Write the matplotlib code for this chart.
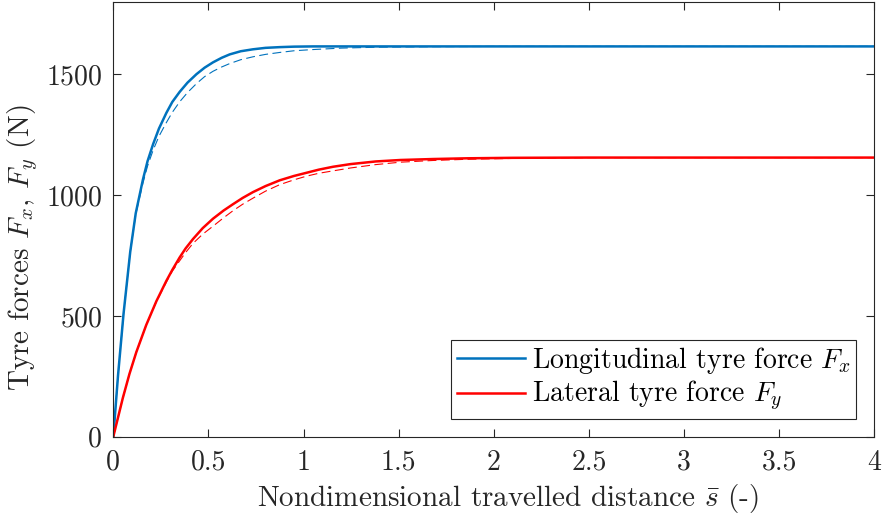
import matplotlib
matplotlib.use("Agg")
import matplotlib.pyplot as plt

plt.rcParams['font.family'] = ['cmr10']
plt.rcParams['mathtext.fontset'] = 'cm'
plt.rcParams['axes.formatter.use_mathtext'] = True

# Longitudinal force, solid (model) and dashed (reference)
s_fx = [0, 0.025, 0.054, 0.089, 0.118, 0.156, 0.18, 0.209, 0.24, 0.279, 0.31, 0.349, 0.39, 0.437, 0.48, 0.524, 0.57, 0.612, 0.67, 0.734, 0.8, 0.875, 0.95, 1.05, 1.5, 2.0, 3.0, 4.0]
fx_solid = [0, 255, 510, 765, 925, 1065, 1140, 1210, 1275, 1340, 1385, 1427, 1465, 1500, 1527, 1549, 1568, 1582, 1595, 1603, 1609, 1612, 1614, 1615, 1615, 1615, 1615, 1615]
s_fx_d = [0, 0.025, 0.054, 0.089, 0.118, 0.156, 0.18, 0.209, 0.24, 0.279, 0.31, 0.349, 0.39, 0.437, 0.48, 0.524, 0.57, 0.612, 0.67, 0.734, 0.8, 0.875, 0.95, 1.05, 1.2, 1.4, 1.7, 2.0, 3.0, 4.0]
fx_dash = [0, 255, 510, 765, 920, 1050, 1120, 1185, 1243, 1300, 1342, 1386, 1424, 1461, 1490, 1512, 1530, 1544, 1560, 1572, 1582, 1590, 1597, 1602, 1608, 1612, 1614, 1615, 1615, 1615]

# Lateral force, solid (model) and dashed (reference)
s_fy = [0, 0.05, 0.085, 0.121, 0.173, 0.226, 0.279, 0.31, 0.349, 0.38, 0.419, 0.47, 0.524, 0.58, 0.629, 0.68, 0.734, 0.8, 0.875, 0.95, 1.015, 1.08, 1.155, 1.247, 1.38, 1.51, 1.68, 1.86, 2.1, 2.5, 3.0, 4.0]
fy_solid = [0, 160, 260, 350, 462, 560, 645, 690, 742, 779, 818, 863, 902, 936, 962, 988, 1012, 1037, 1061, 1079, 1092, 1105, 1117, 1128, 1139, 1145, 1149, 1152, 1154, 1155, 1155, 1155]
s_fy_d = [0, 0.05, 0.085, 0.121, 0.173, 0.226, 0.279, 0.31, 0.349, 0.38, 0.419, 0.47, 0.524, 0.58, 0.629, 0.68, 0.734, 0.8, 0.875, 0.95, 1.015, 1.08, 1.155, 1.247, 1.38, 1.51, 1.68, 1.86, 2.2, 2.5, 3.0, 4.0]
fy_dash = [0, 160, 260, 350, 462, 558, 640, 685, 728, 762, 800, 838, 871, 906, 935, 962, 987, 1016, 1043, 1063, 1078, 1090, 1100, 1112, 1126, 1136, 1143, 1148, 1153, 1155, 1155, 1155]

xticks = [0, 0.5, 1, 1.5, 2, 2.5, 3, 3.5, 4]
xticklabels = ['0', '0.5', '1', '1.5', '2', '2.5', '3', '3.5', '4']
yticks = [0, 500, 1000, 1500]

blue = '#0072BD'
red = '#FF0000'
axc = '#262626'

W, H = 885, 520
fig = plt.figure(figsize=(W / 100, H / 100), dpi=100)
L, R, T, B = 113.3, 874.3, 1.7, 436.7
ax = fig.add_axes([L / W, 1 - B / H, (R - L) / W, (B - T) / H])

ax.plot(s_fx, fx_solid, color=blue, lw=1.8, label=r'Longitudinal tyre force $F_x$')
ax.plot(s_fx_d, fx_dash, color=blue, lw=0.8, ls=(0, (8, 4)))
ax.plot(s_fy, fy_solid, color=red, lw=1.8, label=r'Lateral tyre force $F_y$')
ax.plot(s_fy_d, fy_dash, color=red, lw=0.8, ls=(0, (8, 4)))

ax.set_xlim(0, 4)
ax.set_ylim(0, 1800)
ax.set_xticks(xticks)
ax.set_xticklabels(xticklabels)
ax.set_yticks(yticks)
ax.tick_params(direction='in', length=6, width=0.8, colors=axc, labelsize=20,
               top=True, right=True)
ax.tick_params(axis='y', pad=8)
ax.tick_params(axis='x', pad=9)
for sp in ax.spines.values():
    sp.set_color(axc)
    sp.set_linewidth(0.8)

ax.set_xlabel(r'Nondimensional travelled distance $\bar{s}$ (-)', fontsize=21, color=axc)
ax.set_ylabel(r'Tyre forces $F_x$, $F_y$ (N)', fontsize=21, color=axc)
ax.xaxis.set_label_coords((507.5 - L) / (R - L), (B - 482) / (B - T))
ax.yaxis.set_label_coords((40 - L) / (R - L), (B - 248) / (B - T))

leg = ax.legend(loc='lower right', fontsize=20, frameon=True, fancybox=False,
                edgecolor=axc, framealpha=1, borderpad=0.2, handlelength=2.45,
                handletextpad=0.25, labelspacing=0.1, borderaxespad=0.65)
leg.get_frame().set_linewidth(0.8)

fig.savefig('out.png', dpi=100)
